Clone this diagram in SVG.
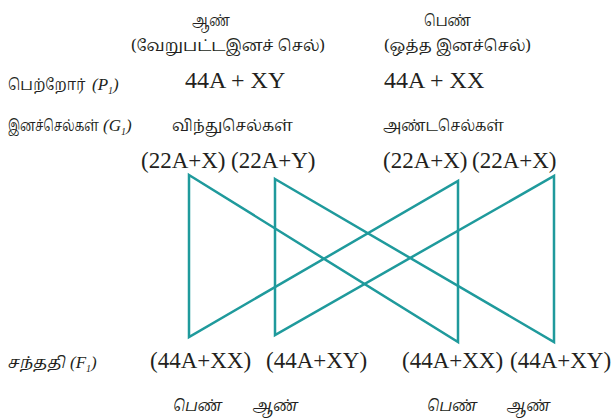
<svg xmlns="http://www.w3.org/2000/svg" width="613" height="418" viewBox="0 0 613 418">
<style>
.ta{font-family:"Noto Serif Tamil","Noto Sans Tamil","Lohit Tamil","Latha","Liberation Serif",serif;font-size:16px;fill:#231f20}
.it{font-style:italic}
.f{font-family:"Liberation Serif","DejaVu Serif",serif;fill:#231f20}
.lt{font-size:17px}
.p{font-size:24px}
.g{font-size:23px}
.c{font-size:23px}
.lnk{fill:none;stroke:#1f9a9c;stroke-width:2.5;stroke-linejoin:miter}
</style>
<rect width="613" height="418" fill="#fff"/>
<g id="labels">
<text class="ta" x="192" y="26" textLength="38" lengthAdjust="spacingAndGlyphs">ஆண்</text>
<text class="ta" x="424" y="26" textLength="47" lengthAdjust="spacingAndGlyphs">பெண்</text>
<text class="ta" x="131" y="51" textLength="194" lengthAdjust="spacingAndGlyphs">(வேறுபட்டஇனச் செல்)</text>
<text class="ta" x="384" y="51" textLength="147" lengthAdjust="spacingAndGlyphs">(ஒத்த இனச்செல்)</text>
<text class="ta" transform="translate(8,90) scale(0.9,1)" x="0" y="0" textLength="86" lengthAdjust="spacingAndGlyphs">பெற்றோர்</text>
<text class="f it lt" x="92" y="90">(P<tspan font-size="10" dy="4">1</tspan><tspan dy="-4">)</tspan></text>
<text class="ta" transform="translate(8,131) scale(0.71,1)" x="0" y="0" textLength="128" lengthAdjust="spacingAndGlyphs">இனச்செல்கள்</text>
<text class="f it lt" x="103" y="131">(G<tspan font-size="10" dy="4">1</tspan><tspan dy="-4">)</tspan></text>
<text class="ta it" x="8" y="368" textLength="58" lengthAdjust="spacingAndGlyphs">சந்ததி</text>
<text class="f it lt" x="70" y="368">(F<tspan font-size="10" dy="4">1</tspan><tspan dy="-4">)</tspan></text>
</g>
<g id="parent-male"><text class="f p" x="185" y="88">44A + XY</text></g>
<g id="parent-female"><text class="f p" x="384" y="88">44A + XX</text></g>
<g id="sperm"><text class="ta" x="172" y="131" textLength="121" lengthAdjust="spacingAndGlyphs">விந்துசெல்கள்</text></g>
<g id="ova"><text class="ta" x="383" y="131" textLength="121" lengthAdjust="spacingAndGlyphs">அண்டசெல்கள்</text></g>
<g id="g1"><text class="f g" x="141" y="168">(22A+X)</text></g>
<g id="g2"><text class="f g" x="231" y="168">(22A+Y)</text></g>
<g id="g3"><text class="f g" x="383" y="168">(22A+X)</text></g>
<g id="g4"><text class="f g" x="472" y="168">(22A+X)</text></g>
<g id="f1"><text class="f c" x="150" y="368">(44A+XX)</text><text class="ta it" x="173" y="411" textLength="49" lengthAdjust="spacingAndGlyphs">பெண்</text></g>
<g id="f2"><text class="f c" x="266" y="368">(44A+XY)</text><text class="ta it" x="253" y="411" textLength="45" lengthAdjust="spacingAndGlyphs">ஆண்</text></g>
<g id="f3"><text class="f c" x="402" y="368">(44A+XX)</text><text class="ta it" x="427" y="411" textLength="50" lengthAdjust="spacingAndGlyphs">பெண்</text></g>
<g id="f4"><text class="f c" x="510" y="368">(44A+XY)</text><text class="ta it" x="507" y="411" textLength="43" lengthAdjust="spacingAndGlyphs">ஆண்</text></g>
<g id="connectors">
<polygon class="lnk" points="189,175 458,342 458,181 189,337"/>
<polygon class="lnk" points="275,179 554,342 554,176 275,335"/>
</g>
</svg>
